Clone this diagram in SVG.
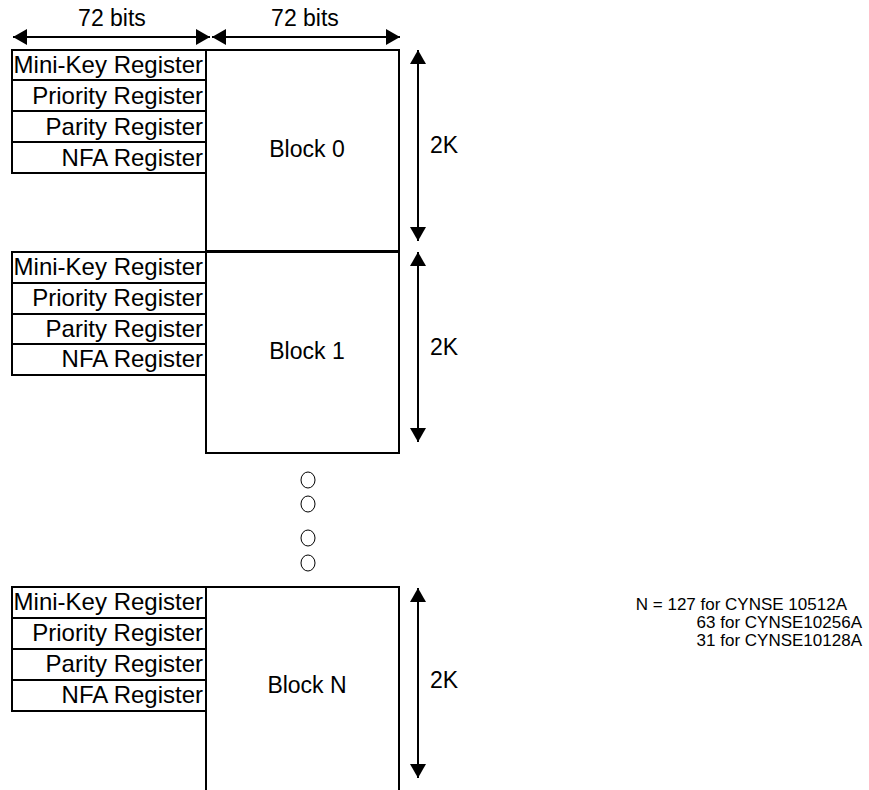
<svg xmlns="http://www.w3.org/2000/svg" width="869" height="790" viewBox="0 0 869 790">
<defs>
<marker id="ah" viewBox="0 0 14 16" refX="14" refY="8" markerWidth="14" markerHeight="16" markerUnits="userSpaceOnUse" orient="auto-start-reverse">
<path d="M0,0 L14,8 L0,16 Z" fill="#000"/>
</marker>
</defs>
<style>
.box{fill:#fff;stroke:#000;stroke-width:2}
.reg{font-family:"Liberation Sans",Arial,sans-serif;font-size:24px;text-anchor:end;fill:#000}
.lbl{font-family:"Liberation Sans",Arial,sans-serif;font-size:23px;fill:#000}
.note{font-family:"Liberation Sans",Arial,sans-serif;font-size:17px;text-anchor:end;fill:#000}
.arr{stroke:#000;stroke-width:2;fill:none;marker-start:url(#ah);marker-end:url(#ah)}
.dot{fill:none;stroke:#000;stroke-width:1}
</style>
<rect width="869" height="790" fill="#fff"/>
<g id="connectors">
<line class="arr" x1="13" y1="37" x2="210" y2="37"/>
<line class="arr" x1="212" y1="37" x2="400" y2="37"/>
<line class="arr" x1="418" y1="50" x2="418" y2="241"/>
<line class="arr" x1="418" y1="252" x2="418" y2="442"/>
<line class="arr" x1="418" y1="588" x2="418" y2="778"/>
</g>
<g id="width-labels">
<text class="lbl" x="112" y="26" text-anchor="middle">72 bits</text>
<text class="lbl" x="305" y="26" text-anchor="middle">72 bits</text>
</g>
<g id="block0">
<rect class="box" x="206" y="50" width="193" height="201"/>
<text class="lbl" x="307" y="157" text-anchor="middle">Block 0</text>
<rect class="box" x="12" y="50" width="194" height="30"/>
<rect class="box" x="12" y="80" width="194" height="31"/>
<rect class="box" x="12" y="111" width="194" height="31"/>
<rect class="box" x="12" y="142" width="194" height="31"/>
<text class="reg" x="203" y="73">Mini-Key Register</text>
<text class="reg" x="203" y="104">Priority Register</text>
<text class="reg" x="203" y="135">Parity Register</text>
<text class="reg" x="203" y="166">NFA Register</text>
<text class="lbl" x="430" y="153">2K</text>
</g>
<g id="block1">
<rect class="box" x="206" y="252" width="193" height="201"/>
<text class="lbl" x="307" y="359" text-anchor="middle">Block 1</text>
<rect class="box" x="12" y="252" width="194" height="31"/>
<rect class="box" x="12" y="283" width="194" height="31"/>
<rect class="box" x="12" y="314" width="194" height="30"/>
<rect class="box" x="12" y="344" width="194" height="31"/>
<text class="reg" x="203" y="275">Mini-Key Register</text>
<text class="reg" x="203" y="306">Priority Register</text>
<text class="reg" x="203" y="337">Parity Register</text>
<text class="reg" x="203" y="367">NFA Register</text>
<text class="lbl" x="430" y="355">2K</text>
</g>
<g id="ellipsis">
<ellipse class="dot" cx="308" cy="480" rx="7" ry="8"/>
<ellipse class="dot" cx="308" cy="504" rx="7" ry="8"/>
<ellipse class="dot" cx="308" cy="538" rx="7" ry="8"/>
<ellipse class="dot" cx="308" cy="563" rx="7" ry="8"/>
</g>
<g id="blockN">
<path d="M206,790 V587 H399 V790" fill="#fff" stroke="#000" stroke-width="2"/>
<text class="lbl" x="307" y="693" text-anchor="middle">Block N</text>
<rect class="box" x="12" y="587" width="194" height="31"/>
<rect class="box" x="12" y="618" width="194" height="31"/>
<rect class="box" x="12" y="649" width="194" height="31"/>
<rect class="box" x="12" y="680" width="194" height="31"/>
<text class="reg" x="203" y="610">Mini-Key Register</text>
<text class="reg" x="203" y="641">Priority Register</text>
<text class="reg" x="203" y="672">Parity Register</text>
<text class="reg" x="203" y="703">NFA Register</text>
<text class="lbl" x="430" y="688">2K</text>
</g>
<g id="note">
<text class="note" x="847" y="610">N = 127 for CYNSE 10512A</text>
<text class="note" x="862" y="628">63 for CYNSE10256A</text>
<text class="note" x="862" y="646">31 for CYNSE10128A</text>
</g>
</svg>
